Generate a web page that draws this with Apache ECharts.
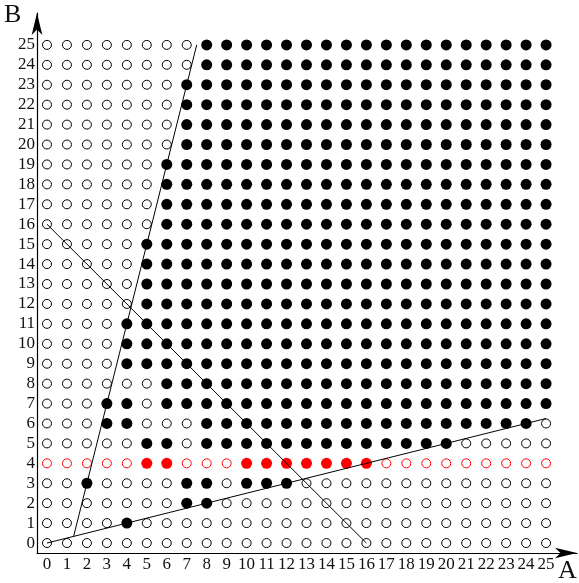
<!DOCTYPE html>
<html>
<head>
<meta charset="utf-8">
<script src="https://cdn.jsdelivr.net/npm/echarts@6/dist/echarts.min.js"></script>
<style>html,body{margin:0;padding:0;background:#fff}#c{width:579px;height:583px}</style>
</head>
<body>
<div id="c"></div>
<script>
// Tick values / labels
const A_TICKS = [0,1,2,3,4,5,6,7,8,9,10,11,12,13,14,15,16,17,18,19,20,21,22,23,24,25];
const B_TICKS = [0,1,2,3,4,5,6,7,8,9,10,11,12,13,14,15,16,17,18,19,20,21,22,23,24,25];
// Highlighted row (drawn in red)
const RED_ROW = 4;
// Filled points as runs: [B, firstA, lastA]
const FILLED_RUNS = [
  [1,4,4],
  [2,7,8],
  [3,2,2],[3,7,8],[3,10,12],
  [4,5,6],[4,10,16],
  [5,5,6],[5,8,20],
  [6,3,4],[6,8,24],
  [7,3,4],[7,6,25],
  [8,6,25],
  [9,4,25],[10,4,25],[11,4,25],
  [12,5,25],[13,5,25],[14,5,25],[15,5,25],
  [16,6,25],[17,6,25],[18,6,25],[19,6,25],
  [20,7,25],[21,7,25],[22,7,25],[23,7,25],
  [24,8,25],[25,8,25]
];
// Straight lines (endpoints in data units)
const LINE_1 = [[0,0],[25,6.25]];
const LINE_2 = [[4/3,1/3],[7.5,25]];
const LINE_3 = [[0,16],[16,0]];

function isFilled(a,b){
  return FILLED_RUNS.some(r => r[0]===b && a>=r[1] && a<=r[2]);
}
const hollowBlack=[], hollowRed=[], filledBlack=[], filledRed=[];
B_TICKS.forEach(b=>{
  A_TICKS.forEach(a=>{
    const f=isFilled(a,b);
    const red=(b===RED_ROW);
    if(f){ (red?filledRed:filledBlack).push([a,b]); }
    else { (red?hollowRed:hollowBlack).push([a,b]); }
  });
});

const FONT='"Liberation Serif", "DejaVu Serif", serif';
const chart=echarts.init(document.getElementById('c'),null,{renderer:'canvas'});
const lineSeries=(d)=>({type:'line',data:d,symbol:'none',silent:true,z:5,
  lineStyle:{color:'#000',width:1},animation:false});
chart.setOption({
  animation:false,
  grid:{left:37,top:13,width:540,height:540},
  xAxis:{type:'value',min:-0.5,max:26.55,
    axisLine:{onZero:false,lineStyle:{color:'#000',width:1.2},symbol:['none','arrow'],symbolSize:[8,22]},
    axisTick:{show:false},splitLine:{show:false},
    axisLabel:{customValues:A_TICKS,color:'#111',fontFamily:FONT,fontSize:17,margin:3,formatter:v=>String(v)}},
  yAxis:{type:'value',min:-0.5,max:26.6,
    axisLine:{onZero:false,lineStyle:{color:'#000',width:1.2},symbol:['none','arrow'],symbolSize:[8,22]},
    axisTick:{show:false},splitLine:{show:false},
    axisLabel:{customValues:B_TICKS,color:'#111',fontFamily:FONT,fontSize:17,margin:2,formatter:v=>String(v)}},
  graphic:[
    {type:'text',left:4,top:2,style:{text:'B',font:'26px '+FONT,fill:'#111'}},
    {type:'text',left:558,top:558,style:{text:'A',font:'26px '+FONT,fill:'#111'}}
  ],
  series:[
    {type:'scatter',data:hollowBlack,symbolSize:9,z:2,itemStyle:{color:'#fff',borderColor:'#000',borderWidth:1,opacity:1}},
    {type:'scatter',data:hollowRed,symbolSize:9,z:2,itemStyle:{color:'#fff',borderColor:'#ff0000',borderWidth:1,opacity:1}},
    {type:'scatter',data:filledBlack,symbolSize:11,z:3,itemStyle:{color:'#000',opacity:1}},
    {type:'scatter',data:filledRed,symbolSize:11,z:3,itemStyle:{color:'#ff0000',opacity:1}},
    lineSeries(LINE_1),lineSeries(LINE_2),lineSeries(LINE_3)
  ]
});
</script>
</body>
</html>
